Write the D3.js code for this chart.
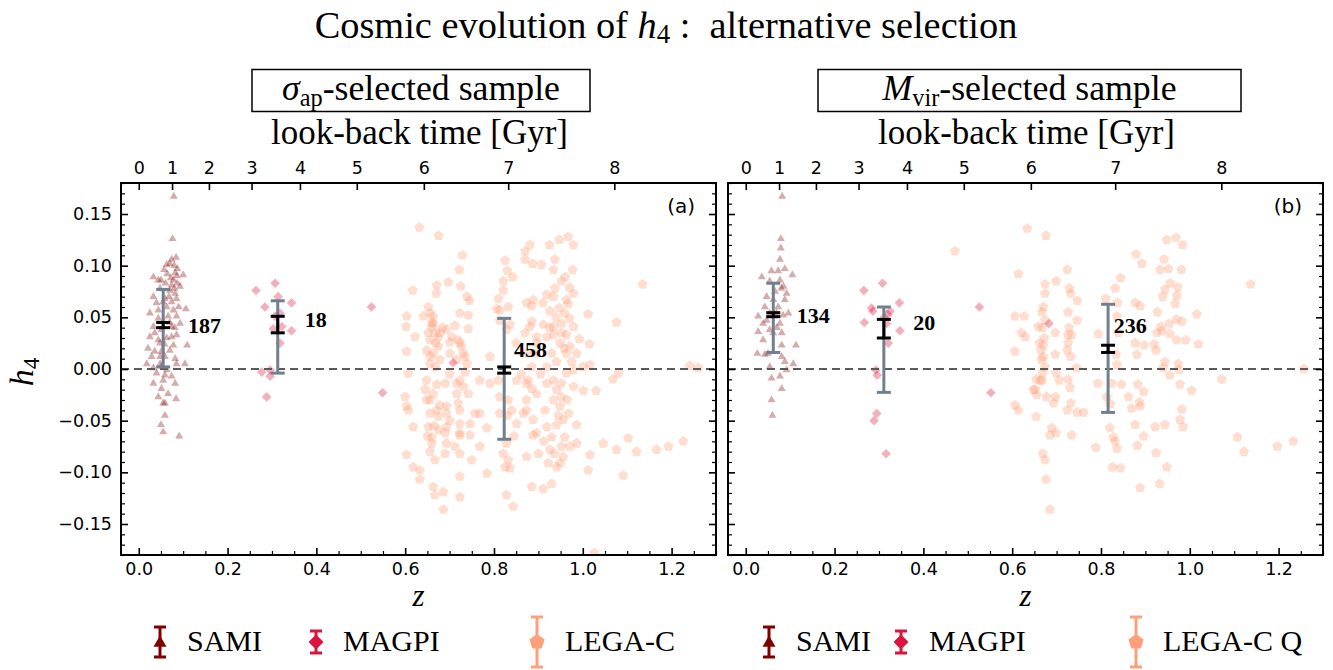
<!DOCTYPE html>
<html><head><meta charset="utf-8">
<script src="https://cdn.jsdelivr.net/npm/d3@7"></script>
<style>body{margin:0;background:#fff} svg{display:block} text{white-space:pre}</style>
</head><body><svg id="c" width="1333" height="670"></svg>
<script>
// ---------------- DATA ----------------
const zTicks = [0.0, 0.2, 0.4, 0.6, 0.8, 1.0, 1.2];
const hTicks = [-0.15, -0.10, -0.05, 0.00, 0.05, 0.10, 0.15];
const lookbackLabels = [0, 1, 2, 3, 4, 5, 6, 7, 8];
const lookbackZ = [0.0, 0.075, 0.158, 0.254, 0.363, 0.491, 0.642, 0.832, 1.071];
const surveys = ["SAMI", "MAGPI", "LEGA-C"];
const legendLabelsA = ["SAMI", "MAGPI", "LEGA-C"];
const legendLabelsB = ["SAMI", "MAGPI", "LEGA-C Q"];

const samiA = [[0.079,0.167],[0.076,0.126],[0.074,0.106],[0.084,0.108],[0.070,0.102],[0.087,0.097],[0.057,0.096],[0.033,0.089],[0.050,0.086],[0.064,0.092],[0.100,0.091],[0.082,0.093],[0.060,0.083],[0.074,0.081],[0.087,0.083],[0.048,0.078],[0.070,0.076],[0.082,0.073],[0.033,0.070],[0.059,0.068],[0.085,0.068],[0.106,0.058],[0.040,0.064],[0.063,0.060],[0.078,0.057],[0.025,0.054],[0.044,0.049],[0.066,0.051],[0.085,0.051],[0.033,0.041],[0.051,0.038],[0.074,0.041],[0.085,0.033],[0.025,0.031],[0.063,0.030],[0.048,0.025],[0.021,0.020],[0.036,0.017],[0.070,0.018],[0.109,0.023],[0.059,0.012],[0.082,0.010],[0.029,0.012],[0.048,0.005],[0.104,0.005],[0.033,0.001],[0.063,-0.001],[0.074,-0.007],[0.040,-0.004],[0.055,-0.011],[0.051,-0.019],[0.066,-0.024],[0.044,-0.027],[0.084,-0.029],[0.059,-0.033],[0.055,-0.033],[0.059,-0.045],[0.050,-0.054],[0.055,-0.061],[0.091,-0.065],[0.063,0.101],[0.044,0.086],[0.078,0.086],[0.093,0.080],[0.055,0.065],[0.074,0.065],[0.044,0.057],[0.055,0.046],[0.093,0.044],[0.036,0.035],[0.074,0.031],[0.044,0.028],[0.078,0.023],[0.051,0.017],[0.018,0.005],[0.085,0.005],[0.059,-0.006],[0.033,-0.014],[0.082,-0.014],[0.048,0.012],[0.080,0.100],[0.072,0.088],[0.086,0.090],[0.068,0.070],[0.080,0.078],[0.090,0.060],[0.070,0.045],[0.081,0.040],[0.058,0.024],[0.052,0.003]];

const magpiA = [[0.264,0.076],[0.307,0.083],[0.314,0.070],[0.284,0.060],[0.344,0.064],[0.318,0.054],[0.303,0.039],[0.344,0.037],[0.318,0.025],[0.277,-0.003],[0.296,-0.007],[0.288,-0.027],[0.524,0.060],[0.549,-0.023],[0.307,0.051],[0.296,-0.001],[0.322,0.041],[0.708,0.006]];

const legacA = [[0.632,0.137],[0.675,0.129],[0.729,0.110],[0.722,0.096],[0.617,0.076],[0.671,0.081],[0.697,0.084],[0.670,0.073],[0.725,0.080],[0.739,0.070],[0.745,0.066],[0.652,0.060],[0.663,0.051],[0.723,0.054],[0.742,0.052],[0.603,0.051],[0.602,0.041],[0.622,0.031],[0.742,0.039],[0.660,0.041],[0.678,0.035],[0.705,0.031],[0.723,0.025],[0.731,0.015],[0.603,0.017],[0.648,0.018],[0.675,0.022],[0.656,0.005],[0.739,0.005],[0.607,-0.004],[0.791,0.012],
[0.881,0.120],[0.870,0.114],[0.870,0.106],[0.887,0.102],[0.907,0.101],[0.825,0.105],[0.830,0.095],[0.842,0.089],[0.821,0.085],[0.810,0.068],[0.806,0.058],[0.832,0.060],[0.813,0.047],[0.836,0.043],
[0.925,0.120],[0.947,0.125],[0.967,0.128],[0.979,0.120],[0.937,0.106],[0.934,0.096],[0.977,0.096],[0.952,0.085],[0.937,0.078],[0.970,0.079],[0.934,0.070],[0.910,0.064],[0.873,0.064],[0.885,0.061],[0.963,0.067],[0.947,0.059],[0.967,0.063],[0.926,0.056],[0.885,0.046],[0.881,0.041],[0.911,0.043],[0.934,0.041],[0.952,0.044],[0.970,0.049],[0.979,0.041],[1.012,0.053],[0.992,0.029],[1.015,0.024],[0.934,0.033],[0.963,0.033],[0.949,0.025],[0.971,0.022],[0.896,0.025],[0.892,0.015],[0.930,0.015],[0.873,0.015],[0.941,0.007],[0.975,0.007],[0.919,0.002],[0.885,0.002],[0.979,-0.001],[1.001,0.002],[1.016,0.004],[1.076,0.045],[1.135,0.082],[1.080,-0.004],[1.068,-0.010],[1.241,0.003],[1.260,0.001],
[0.600,-0.027],[0.603,-0.036],[0.618,-0.056],[0.645,-0.020],[0.648,-0.030],[0.663,-0.024],[0.690,-0.014],[0.723,-0.011],[0.716,-0.024],[0.742,-0.024],[0.768,-0.011],[0.791,-0.014],[0.810,-0.011],[0.851,-0.011],[0.873,-0.014],[0.885,-0.019],[0.919,-0.014],[0.941,-0.020],[0.952,-0.014],[1.001,-0.021],[1.030,-0.021],[0.607,-0.040],[0.656,-0.043],[0.671,-0.040],[0.693,-0.036],[0.723,-0.040],[0.757,-0.043],[0.652,-0.056],[0.675,-0.059],[0.693,-0.056],[0.723,-0.053],[0.746,-0.053],[0.768,-0.043],[0.784,-0.057],[0.813,-0.027],[0.832,-0.030],[0.840,-0.040],[0.813,-0.043],[0.873,-0.040],[0.888,-0.049],[0.866,-0.043],[0.915,-0.040],[0.934,-0.030],[0.952,-0.027],[0.919,-0.056],[0.941,-0.054],[0.968,-0.043],[0.986,-0.054],[0.956,-0.049],[0.851,-0.053],[0.660,-0.066],[0.693,-0.072],[0.723,-0.064],[0.746,-0.064],[0.768,-0.075],[0.656,-0.080],[0.690,-0.082],[0.723,-0.082],[0.750,-0.088],[0.603,-0.083],[0.618,-0.095],[0.633,-0.098],[0.667,-0.088],[0.828,-0.072],[0.821,-0.082],[0.832,-0.088],[0.825,-0.095],[0.836,-0.096],[0.873,-0.085],[0.888,-0.064],[0.900,-0.082],[0.926,-0.078],[0.922,-0.091],[0.949,-0.091],[0.971,-0.075],[0.986,-0.072],[0.956,-0.085],[1.016,-0.083],[1.012,-0.098],[1.046,-0.072],[1.076,-0.078],[1.102,-0.067],[1.121,-0.080],[1.166,-0.078],[1.193,-0.075],[1.226,-0.070],[1.091,-0.103],[0.784,-0.101],[0.723,-0.104],[0.663,-0.114],[0.667,-0.122],[0.686,-0.119],[0.723,-0.124],[0.686,-0.136],[0.828,-0.122],[0.843,-0.133],[0.885,-0.114],[0.911,-0.116],[0.930,-0.111],[0.633,-0.107],[1.026,-0.178],
[0.656,0.054],[0.663,0.044],[0.667,0.035],[0.656,0.028],[0.675,0.031],[0.693,0.038],[0.720,0.028],[0.727,0.022],[0.701,0.015],[0.663,0.015],[0.656,0.012],[0.678,0.009],[0.716,0.009],[0.735,0.012],[0.641,0.051],[0.652,0.035],[0.648,-0.011],[0.671,-0.015],[0.716,-0.014],[0.731,-0.017],[0.656,-0.030],[0.678,-0.035],[0.693,-0.043],[0.720,-0.033],[0.675,-0.046],[0.723,-0.062],[0.660,-0.072],[0.690,-0.062],[0.877,-0.011],[0.896,-0.024],[0.873,-0.030],[0.934,-0.011],[0.963,-0.004],[0.979,-0.017],[0.949,-0.036],[0.896,-0.062],[0.930,-0.066],[0.959,-0.066],[0.952,-0.075],[0.941,-0.095],[0.870,0.035],[0.896,0.031],[0.919,0.031],[0.952,0.035],[0.986,0.015],[0.963,0.015],[0.959,0.054],[0.979,0.073],[0.960,0.089],[0.919,0.072],[0.888,0.067],[0.821,0.076],[0.813,0.057],[0.828,0.038],
[0.660,0.045],[0.668,0.025],[0.684,0.040],[0.700,0.026],[0.712,0.042],[0.668,0.002],[0.700,-0.005],[0.735,-0.003],[0.665,-0.055],[0.700,-0.050],[0.712,-0.075],[0.650,-0.065],[0.940,0.050],[0.958,0.020],[0.925,0.040],[0.905,-0.005],[0.945,-0.045],[0.965,-0.030],[0.912,-0.070],[0.936,-0.082],[0.850,0.025],[0.862,-0.005],[0.830,-0.045],[0.845,-0.065]];

const samiB = [[0.082,0.167],[0.079,0.126],[0.079,0.117],[0.077,0.106],[0.088,0.097],[0.058,0.095],[0.036,0.089],[0.105,0.091],[0.077,0.086],[0.054,0.085],[0.047,0.070],[0.085,0.080],[0.092,0.073],[0.066,0.075],[0.043,0.060],[0.073,0.060],[0.096,0.054],[0.028,0.051],[0.047,0.047],[0.077,0.044],[0.028,0.036],[0.054,0.038],[0.081,0.035],[0.039,0.028],[0.081,0.023],[0.113,0.023],[0.026,0.015],[0.043,0.014],[0.081,0.012],[0.088,0.007],[0.107,0.005],[0.054,0.002],[0.092,-0.001],[0.058,-0.009],[0.077,-0.007],[0.081,-0.019],[0.058,-0.030],[0.060,-0.045],[0.062,0.035],[0.069,0.054],[0.054,0.054],[0.088,0.067],[0.062,0.067],[0.039,0.044],[0.073,0.095],[0.050,0.015],[0.080,0.078],[0.070,0.040],[0.084,0.052]];

const magpiB = [[0.266,0.076],[0.308,0.083],[0.283,0.059],[0.325,0.056],[0.346,0.064],[0.267,0.045],[0.317,0.044],[0.347,0.037],[0.321,0.025],[0.296,-0.006],[0.295,-0.043],[0.289,-0.050],[0.316,-0.082],[0.526,0.060],[0.552,-0.023],[0.312,0.050],[0.293,-0.001],[0.683,0.044],[0.286,0.056],[0.320,0.053]];

const legacB = [[0.634,0.136],[0.676,0.129],[0.471,0.114],[0.614,0.092],[0.674,0.082],[0.606,0.051],[0.627,0.051],[0.621,0.035],[0.629,0.031],[0.606,0.017],[0.652,-0.020],[0.606,-0.035],[0.614,-0.040],[0.654,-0.046],[0.669,-0.082],[0.676,-0.107],[0.674,0.073],[0.670,0.060],[0.674,0.047],[0.662,0.025],[0.666,0.009],[0.663,-0.011],[0.685,-0.136],
[0.699,0.085],[0.724,0.096],[0.729,0.078],[0.732,0.073],[0.747,0.066],[0.667,0.055],[0.726,0.055],[0.746,0.047],[0.659,0.041],[0.697,0.035],[0.726,0.033],[0.734,0.033],[0.670,0.023],[0.726,0.025],[0.697,0.014],[0.732,0.012],[0.670,0.012],[0.674,0.002],[0.745,0.001],[0.654,-0.010],[0.667,-0.011],[0.699,-0.004],[0.706,-0.011],[0.726,-0.010],[0.730,-0.018],[0.648,-0.020],[0.655,-0.025],[0.677,-0.027],[0.697,-0.027],[0.732,-0.033],[0.693,-0.033],[0.724,-0.040],[0.746,-0.042],[0.761,-0.042],[0.689,-0.057],[0.699,-0.062],[0.685,-0.064],[0.734,-0.064],[0.674,-0.088],[0.668,0.040],[0.672,0.030],[0.665,0.018],[0.728,0.040],[0.724,0.018],[0.668,-0.004],
[0.811,0.068],[0.832,0.078],[0.844,0.088],[0.837,0.064],[0.879,0.111],[0.892,0.102],[0.794,0.034],[0.836,0.051],[0.877,0.064],[0.888,0.061],[0.839,0.035],[0.877,0.025],[0.897,0.023],[0.881,0.014],[0.834,0.014],[0.836,0.004],[0.793,-0.014],[0.824,-0.014],[0.846,-0.015],[0.813,-0.027],[0.821,-0.034],[0.883,-0.015],[0.896,-0.022],[0.862,-0.027],[0.887,-0.032],[0.869,-0.038],[0.888,-0.036],[0.820,-0.057],[0.828,-0.066],[0.832,-0.070],[0.836,-0.077],[0.788,-0.076],[0.877,-0.054],[0.896,-0.065],[0.882,-0.074],[0.826,-0.095],[0.844,-0.096],[0.888,-0.115],
[0.948,0.125],[0.969,0.127],[0.984,0.120],[0.942,0.106],[0.952,0.097],[0.933,0.096],[0.981,0.096],[0.956,0.083],[0.973,0.079],[0.944,0.077],[0.971,0.071],[0.939,0.070],[0.967,0.063],[0.927,0.055],[0.970,0.048],[0.982,0.046],[0.954,0.044],[0.935,0.041],[1.016,0.053],[0.926,0.035],[0.937,0.037],[0.955,0.034],[0.970,0.028],[0.920,0.024],[0.924,0.018],[0.991,0.028],[1.019,0.024],[0.944,0.007],[0.974,0.005],[0.940,0.001],[0.976,-0.001],[0.955,-0.006],[0.978,-0.015],[1.004,-0.021],[0.982,-0.039],[0.978,-0.049],[0.985,-0.056],[0.922,-0.056],[0.944,-0.054],[0.924,-0.081],[0.948,-0.095],[0.932,-0.111],[1.072,-0.010],[1.107,-0.066],[1.122,-0.080],[1.137,0.082],[1.197,-0.075],[1.233,-0.070],[1.257,0.000]];

// per-survey summary: median z, scatter range (gray), error on mean (black), sample size, label anchor
const statsA = [
  {z:0.055, lo:0.002,  hi:0.077,  mlo:0.040,  mhi:0.045,  n:187, lz:0.111, lh:0.035},
  {z:0.313, lo:-0.004, hi:0.066,  mlo:0.035,  mhi:0.051,  n:18,  lz:0.374, lh:0.041},
  {z:0.823, lo:-0.068, hi:0.049,  mlo:-0.004, mhi:0.002,  n:458, lz:0.845, lh:0.012}];
const statsB = [
  {z:0.062, lo:0.016,  hi:0.083,  mlo:0.0506, mhi:0.0545, n:134, lz:0.115, lh:0.045},
  {z:0.311, lo:-0.0226,hi:0.060,  mlo:0.030,  mhi:0.048,  n:20,  lz:0.377, lh:0.038},
  {z:0.816, lo:-0.042, hi:0.0626, mlo:0.016,  mhi:0.023,  n:236, lz:0.829, lh:0.035}];

// ---------------- LAYOUT / STYLE ----------------
const serif = "'Liberation Serif','Times New Roman',serif";
const sans = "'DejaVu Sans',sans-serif";
const plotTop = 183, plotBottom = 555, plotW = 595;
const zDomain = [-0.04, 1.3], hDomain = [-0.18, 0.18];
const colors = {SAMI:"#800000", MAGPI:"#dc143c", "LEGA-C":"#ffa07a"};
const svg = d3.select("#c");

function fitWidth(sel, target){
  const w = sel.node().getComputedTextLength();
  const fs = parseFloat(sel.attr("font-size"));
  sel.attr("font-size", fs*target/w);
  return fs*target/w;
}
function triPath(r){ return `M0,${-r}L${r*0.866},${r*0.5}L${-r*0.866},${r*0.5}Z`; }
function diaPath(r){ return `M0,${-r}L${r},0L0,${r}L${-r},0Z`; }
function pentPath(r){
  const p = d3.range(5).map(k=>{const a=(-90+72*k)*Math.PI/180; return [r*Math.cos(a), r*Math.sin(a)];});
  return "M"+p.map(q=>q[0].toFixed(2)+","+q[1].toFixed(2)).join("L")+"Z";
}

// Title
const title = svg.append("text").attr("x",666).attr("y",38).attr("text-anchor","middle")
  .attr("font-family",serif).attr("font-size",30).attr("fill","#000");
title.append("tspan").text("Cosmic evolution of ");
title.append("tspan").attr("font-style","italic").text("h");
title.append("tspan").attr("font-size","70%").attr("dy",5).text("4");
title.append("tspan").attr("dy",-5).text(" :  alternative selection");
fitWidth(title, 703);

const panels = [
  {key:"a", x0:121, sami:samiA, magpi:magpiA, legac:legacA, stats:statsA, sym:"σ", sub:"ap", box:[252,590], showY:true,
   legend:legendLabelsA, legMarkX:[160,316,537], legTextX:[187,343,565]},
  {key:"b", x0:728, sami:samiB, magpi:magpiB, legac:legacB, stats:statsB, sym:"M", sub:"vir", box:[818,1241], showY:false,
   legend:legendLabelsB, legMarkX:[769,901,1136], legTextX:[796,929,1163]}
];

const hMinor = d3.range(-18,19).map(d=>d/100).filter(v=>Math.abs(Math.round(v*100)%5)!==0);
const zMinor = d3.range(0,27).map(d=>d*0.05).filter(v=>Math.abs(Math.round(v*20)%4)!==0);
let boxFont = null;

panels.forEach(p=>{
  const x = d3.scaleLinear().domain(zDomain).range([p.x0, p.x0+plotW]);
  const y = d3.scaleLinear().domain(hDomain).range([plotBottom, plotTop]);
  const cx = p.x0 + plotW/2;

  svg.append("clipPath").attr("id","clip"+p.key).append("rect")
    .attr("x",p.x0).attr("y",plotTop).attr("width",plotW).attr("height",plotBottom-plotTop);
  const gp = svg.append("g").attr("clip-path",`url(#clip${p.key})`);

  // scatter
  gp.selectAll(".lg").data(p.legac).join("path").attr("d",pentPath(5.3))
    .attr("transform",d=>`translate(${x(d[0])},${y(d[1])})`).attr("fill",colors["LEGA-C"]).attr("fill-opacity",0.36);
  gp.selectAll(".sm").data(p.sami).join("path").attr("d",triPath(4.6))
    .attr("transform",d=>`translate(${x(d[0])},${y(d[1])})`).attr("fill",colors.SAMI).attr("fill-opacity",0.33);
  gp.selectAll(".mg").data(p.magpi).join("path").attr("d",diaPath(4.8))
    .attr("transform",d=>`translate(${x(d[0])},${y(d[1])})`).attr("fill",colors.MAGPI).attr("fill-opacity",0.34);

  // zero line
  gp.append("line").attr("x1",p.x0).attr("x2",p.x0+plotW).attr("y1",y(0)).attr("y2",y(0))
    .attr("stroke","#5a5a5a").attr("stroke-width",2).attr("stroke-dasharray","8,5");

  // error bars
  const eb = svg.append("g");
  p.stats.forEach(s=>{
    const xx = x(s.z);
    eb.append("line").attr("x1",xx).attr("x2",xx).attr("y1",y(s.lo)).attr("y2",y(s.hi)).attr("stroke","#708090").attr("stroke-width",3);
    [s.lo,s.hi].forEach(v=>eb.append("line").attr("x1",xx-7).attr("x2",xx+7).attr("y1",y(v)).attr("y2",y(v)).attr("stroke","#708090").attr("stroke-width",3));
    eb.append("line").attr("x1",xx).attr("x2",xx).attr("y1",y(s.mlo)).attr("y2",y(s.mhi)).attr("stroke","#000").attr("stroke-width",3);
    [s.mlo,s.mhi].forEach(v=>eb.append("line").attr("x1",xx-7).attr("x2",xx+7).attr("y1",y(v)).attr("y2",y(v)).attr("stroke","#000").attr("stroke-width",3));
    eb.append("text").attr("x",x(s.lz)).attr("y",y(s.lh)).attr("font-family",serif).attr("font-weight","bold")
      .attr("font-size",22).text(s.n);
  });

  // axes
  const styleAxis = (g, fs) => {
    g.select(".domain").remove();
    g.selectAll("line").attr("stroke","#000");
    g.selectAll("text").attr("font-family",sans).attr("font-size",fs).attr("fill","#000");
  };
  const gb = svg.append("g").attr("transform",`translate(0,${plotBottom})`)
    .call(d3.axisBottom(x).tickValues(zTicks).tickFormat(d3.format(".1f")).tickSize(-7).tickSizeOuter(0).tickPadding(8));
  styleAxis(gb,17.5); gb.selectAll("line").attr("stroke-width",1.6);
  const gbm = svg.append("g").attr("transform",`translate(0,${plotBottom})`)
    .call(d3.axisBottom(x).tickValues(zMinor).tickFormat("").tickSize(-4).tickSizeOuter(0));
  styleAxis(gbm,10); gbm.selectAll("line").attr("stroke-width",1.2);

  const gl = svg.append("g").attr("transform",`translate(${p.x0},0)`)
    .call(d3.axisLeft(y).tickValues(hTicks).tickFormat(p.showY ? d3.format(".2f") : "").tickSize(-7).tickSizeOuter(0).tickPadding(9));
  styleAxis(gl,17.5); gl.selectAll("line").attr("stroke-width",1.6);
  const glm = svg.append("g").attr("transform",`translate(${p.x0},0)`)
    .call(d3.axisLeft(y).tickValues(hMinor).tickFormat("").tickSize(-4).tickSizeOuter(0));
  styleAxis(glm,10); glm.selectAll("line").attr("stroke-width",1.2);

  const gr = svg.append("g").attr("transform",`translate(${p.x0+plotW},0)`)
    .call(d3.axisRight(y).tickValues(hTicks).tickFormat("").tickSize(-7).tickSizeOuter(0));
  styleAxis(gr,10); gr.selectAll("line").attr("stroke-width",1.6);
  const grm = svg.append("g").attr("transform",`translate(${p.x0+plotW},0)`)
    .call(d3.axisRight(y).tickValues(hMinor).tickFormat("").tickSize(-4).tickSizeOuter(0));
  styleAxis(grm,10); grm.selectAll("line").attr("stroke-width",1.2);

  const gt = svg.append("g").attr("transform",`translate(0,${plotTop})`)
    .call(d3.axisTop(x).tickValues(lookbackZ).tickFormat((d,i)=>lookbackLabels[i]).tickSize(-7).tickSizeOuter(0).tickPadding(9));
  styleAxis(gt,17.5); gt.selectAll("line").attr("stroke-width",1.6);

  // frame
  svg.append("rect").attr("x",p.x0).attr("y",plotTop).attr("width",plotW).attr("height",plotBottom-plotTop)
    .attr("fill","none").attr("stroke","#000").attr("stroke-width",2);

  // panel tag
  svg.append("text").attr("x",p.x0+plotW-21).attr("y",213).attr("text-anchor","end")
    .attr("font-family",sans).attr("font-size",20).text(`(${p.key})`);

  // x label
  svg.append("text").attr("x",cx).attr("y",606).attr("text-anchor","middle")
    .attr("font-family",serif).attr("font-style","italic").attr("font-size",31).text("z");

  // look-back label
  const lb = svg.append("text").attr("x",cx+1).attr("y",144).attr("text-anchor","middle")
    .attr("font-family",serif).attr("font-size",28).text("look-back time [Gyr]");
  fitWidth(lb, 297);

  // selection box
  svg.append("rect").attr("x",p.box[0]).attr("y",69.5).attr("width",p.box[1]-p.box[0]).attr("height",42)
    .attr("fill","#fff").attr("stroke","#000").attr("stroke-width",1.5);
  const bt = svg.append("text").attr("x",(p.box[0]+p.box[1])/2).attr("y",100).attr("text-anchor","middle")
    .attr("font-family",serif).attr("font-size",28);
  bt.append("tspan").attr("font-style","italic").text(p.sym);
  bt.append("tspan").attr("font-size","68%").attr("dy",6).text(p.sub);
  bt.append("tspan").attr("dy",-6).text("-selected sample");
  if (boxFont === null) boxFont = fitWidth(bt, 278); else bt.attr("font-size", boxFont);

  // legend
  const ly = 642;
  surveys.forEach((sv,i)=>{
    const mx = p.legMarkX[i], c = colors[sv];
    const half = sv==="LEGA-C" ? 25 : (sv==="MAGPI" ? 11 : 15);
    const lg = svg.append("g");
    lg.append("line").attr("x1",mx).attr("x2",mx).attr("y1",ly-half).attr("y2",ly+half).attr("stroke",c).attr("stroke-width",3);
    [ly-half, ly+half].forEach(v=>lg.append("line").attr("x1",mx-6).attr("x2",mx+6).attr("y1",v).attr("y2",v).attr("stroke",c).attr("stroke-width",3));
    const path = sv==="SAMI" ? triPath(7.5) : (sv==="MAGPI" ? diaPath(7.5) : pentPath(8));
    lg.append("path").attr("d",path).attr("transform",`translate(${mx},${ly+(sv==="SAMI"?1:0)})`).attr("fill",c);
    svg.append("text").attr("x",p.legTextX[i]).attr("y",651).attr("font-family",serif).attr("font-size",30).text(p.legend[i]);
  });
});

// y label
const yl = svg.append("text").attr("transform","translate(33,372) rotate(-90)").attr("text-anchor","middle")
  .attr("font-family",serif).attr("font-size",34);
yl.append("tspan").attr("font-style","italic").text("h");
yl.append("tspan").attr("font-size","68%").attr("dy",6).text("4");
</script>
</body></html>
